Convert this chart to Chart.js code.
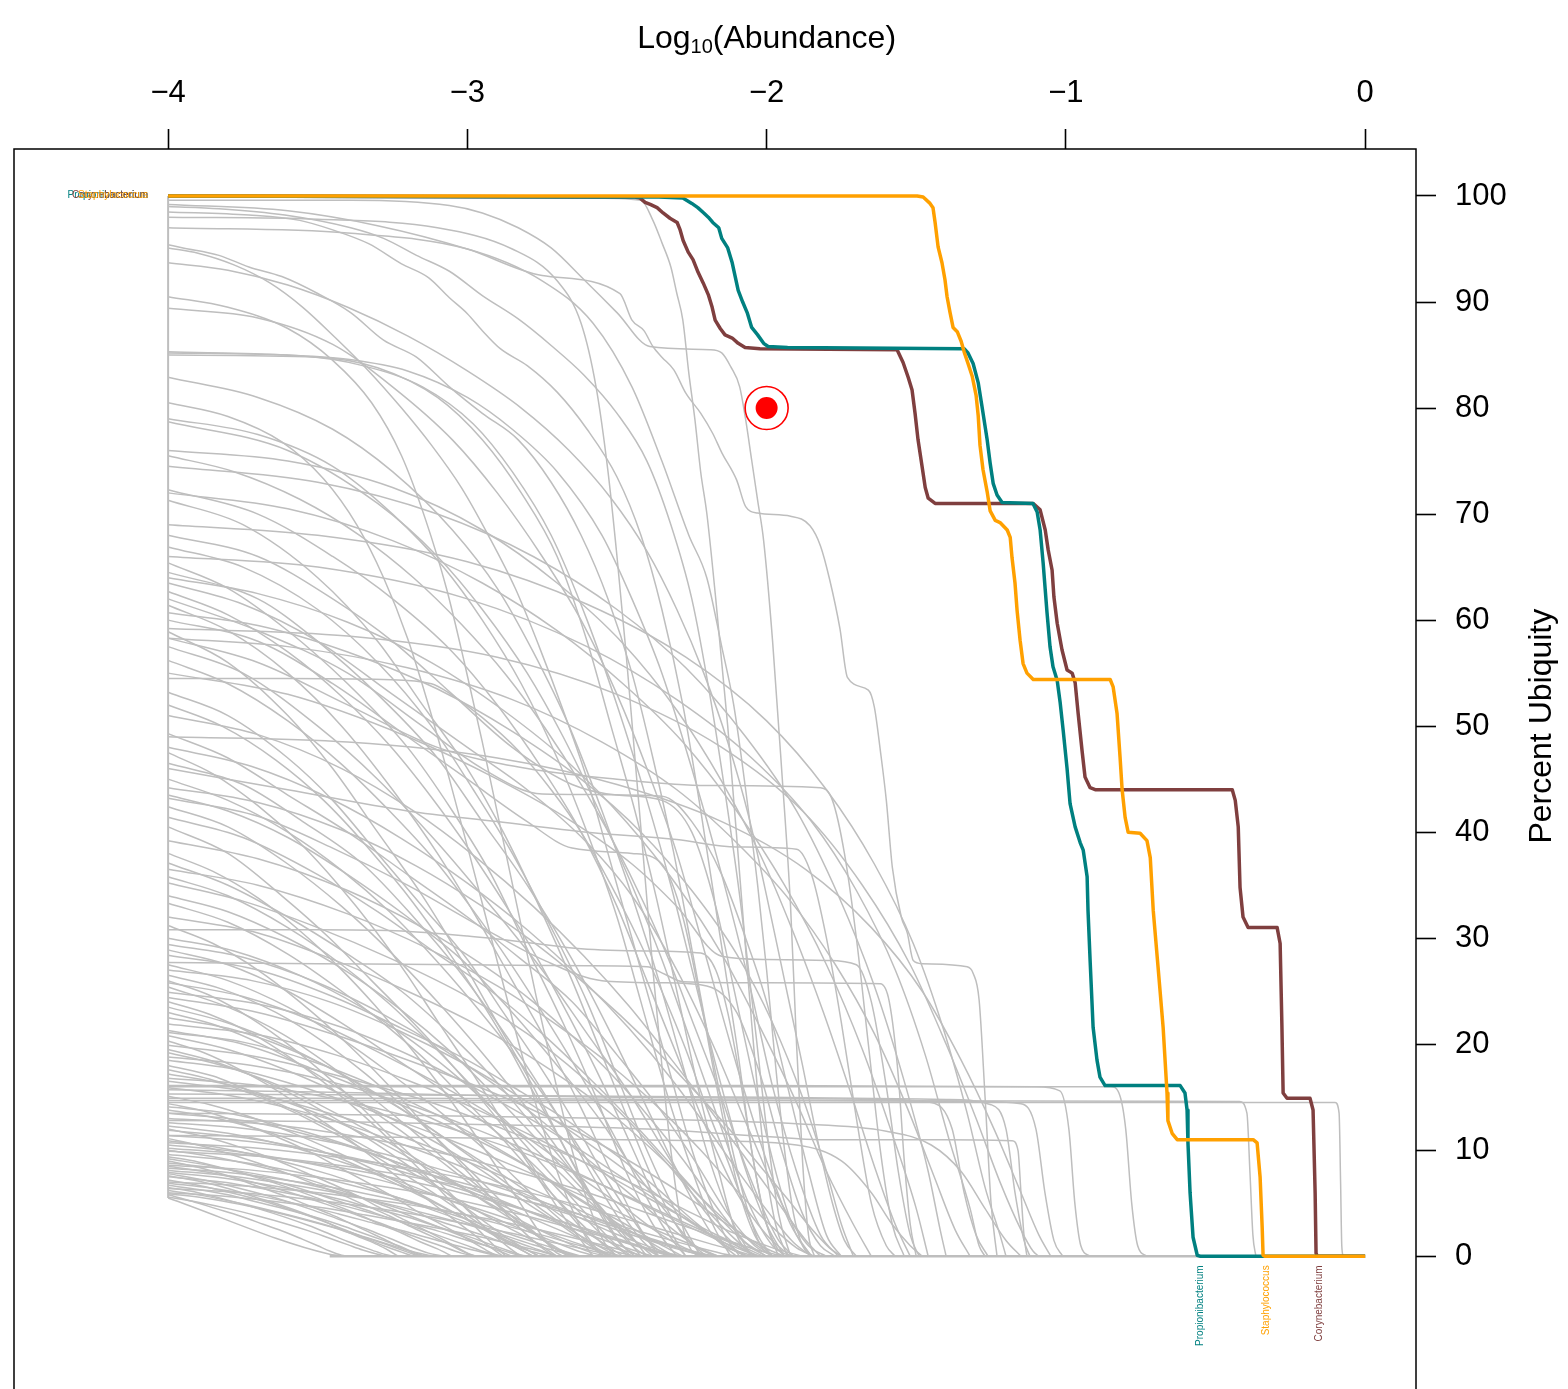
<!DOCTYPE html>
<html>
<head>
<meta charset="utf-8">
<script src="https://cdn.jsdelivr.net/npm/chart.js@4.4.1/dist/chart.umd.min.js"></script>
<style>
  html, body { margin: 0; padding: 0; background: #fff; overflow: hidden; }
  #box { position: relative; width: 1568px; height: 1478px; }
</style>
</head>
<body>
<div id="box"><canvas id="chart"></canvas></div>
<script>
// axis ticks
const xTicks = [-4, -3, -2, -1, 0];
const yTicks = [0, 10, 20, 30, 40, 50, 60, 70, 80, 90, 100];

// highlighted genera: [log10 abundance threshold, percent of samples]
const genera = ['Propionibacterium', 'Corynebacterium', 'Staphylococcus'];

const propionibacterium = [[-4,100],[-2.36,99.9],[-2.28,99.8],[-2.25,99.3],[-2.23,98.9],[-2.21,98.4],[-2.195,98],[-2.18,97.5],
  [-2.16,97],[-2.15,96],[-2.13,95.1],[-2.115,93.7],[-2.105,92.4],[-2.095,91.1],[-2.08,90],[-2.065,89],[-2.05,87.6],[-2.03,86.9],
  [-2.01,86.1],[-1.995,85.8],[-1.93,85.7],[-1.34,85.6],[-1.327,85.2],[-1.31,84.2],[-1.293,82.4],[-1.28,80.1],[-1.263,77],
  [-1.253,74.8],[-1.243,72.9],[-1.23,71.8],[-1.213,71.1],[-1.11,71],[-1.096,70.2],[-1.086,68.5],[-1.076,65.4],[-1.063,60.7],
  [-1.053,57.5],[-1.043,55.6],[-1.029,54.3],[-1.019,52.2],[-1.009,49.6],[-0.996,46],[-0.986,42.7],[-0.969,40.5],[-0.952,39],
  [-0.942,38.3],[-0.929,35.8],[-0.926,32.6],[-0.919,27.9],[-0.909,21.6],[-0.896,18.5],[-0.886,16.9],[-0.869,16.1],[-0.618,16.1],
  [-0.602,15.4],[-0.595,13.8],[-0.592,10.7],[-0.585,6],[-0.575,1.8],[-0.561,0.1],[-0.55,0],[0,0]];

const corynebacterium = [[-4,100],[-2.44,99.9],[-2.423,99.8],[-2.406,99.4],[-2.389,99.2],[-2.366,98.9],[-2.346,98.4],[-2.323,97.9],
  [-2.299,97.5],[-2.289,96.8],[-2.279,95.8],[-2.262,94.7],[-2.246,94],[-2.229,92.8],[-2.212,91.8],[-2.195,90.7],[-2.182,89.5],
  [-2.172,88.3],[-2.155,87.5],[-2.139,86.9],[-2.115,86.6],[-2.095,86.1],[-2.072,85.7],[-2.022,85.6],[-1.564,85.5],[-1.544,84.3],
  [-1.527,82.9],[-1.514,81.7],[-1.504,79.5],[-1.494,77],[-1.48,74.4],[-1.47,72.5],[-1.46,71.5],[-1.437,71],[-1.109,71],
  [-1.086,70.4],[-1.069,68.5],[-1.059,66.6],[-1.046,64.7],[-1.04,62.2],[-1.029,59.7],[-1.013,57.2],[-0.996,55.3],[-0.979,55],
  [-0.969,54.1],[-0.959,51.2],[-0.946,47.7],[-0.936,45.2],[-0.919,44.2],[-0.9,44],[-0.444,44],[-0.434,43],[-0.424,40.5],
  [-0.418,34.8],[-0.408,32],[-0.391,31],[-0.294,31],[-0.284,29.5],[-0.278,21.6],[-0.274,15.4],[-0.261,14.9],[-0.184,14.9],
  [-0.174,13.8],[-0.167,5.9],[-0.164,0.3],[-0.16,0],[0,0]];

const staphylococcus = [[-4,100],[-1.497,100],[-1.477,99.9],[-1.454,99.3],[-1.444,98.9],[-1.437,97.5],[-1.427,95.2],[-1.414,93.7],
  [-1.404,92.1],[-1.397,90.5],[-1.387,89],[-1.377,87.6],[-1.363,87.2],[-1.35,86.3],[-1.34,85.3],[-1.327,84.2],[-1.313,83],
  [-1.3,81.2],[-1.293,79.3],[-1.287,76.5],[-1.277,74.2],[-1.263,72.1],[-1.253,70.3],[-1.236,69.4],[-1.22,69.2],[-1.196,68.5],
  [-1.186,67.8],[-1.18,65.9],[-1.17,63.5],[-1.163,60.9],[-1.153,58.1],[-1.143,55.9],[-1.13,55],[-1.109,54.4],[-0.852,54.4],
  [-0.842,53.7],[-0.829,51.2],[-0.819,47.1],[-0.812,44],[-0.802,41.4],[-0.792,40],[-0.752,39.9],[-0.729,39.2],[-0.718,37.6],
  [-0.708,32.6],[-0.692,27.3],[-0.675,21.6],[-0.662,15.4],[-0.659,12.8],[-0.645,11.6],[-0.628,11],[-0.374,11],[-0.361,10.7],
  [-0.351,7.5],[-0.344,2.7],[-0.341,0.1],[-0.335,0],[0,0]];

// every other genus, drawn in grey
const otherGenera = [
  [[-4,99.9],[-2.6,99.8],[-2.42,99.6],[-2.38,97.7],[-2.35,95.6],[-2.32,93.3],[-2.3,90.8],[-2.28,88.3],[-2.26,83.3],[-2.24,79],[-2.22,73.9],[-2.2,70.1],[-2.17,62],[-2.13,50],[-2.09,36],[-2.05,22],[-2.01,10],[-1.97,3],[-1.93,0]],
  [[-4,99.6],[-3.39,99.6],[-3.06,99.1],[-2.95,98.4],[-2.83,97],[-2.72,95.1],[-2.61,92.1],[-2.5,89],[-2.39,85.8],[-2.19,85.5],[-2.15,85.2],[-2.12,83.9],[-2.09,82],[-2.07,78.9],[-2.05,75.1],[-2.03,71.3],[-2.01,67.5],[-1.98,58],[-1.95,46],[-1.92,33],[-1.9,20],[-1.88,9],[-1.86,2],[-1.84,0]],
  [[-4,99.2],[-3.6,98.6],[-3.3,97.2],[-3,95],[-2.75,92.5],[-2.49,90.8],[-2.45,88.3],[-2.41,87.3],[-2.38,85.8],[-2.35,84.8],[-2.31,83.6],[-2.27,81.4],[-2.22,79.5],[-2.18,77.6],[-2.15,75.8],[-2.1,73.2],[-2.07,70.7],[-2.03,70.1],[-1.92,69.8],[-1.855,68.9],[-1.82,67],[-1.79,63.9],[-1.755,59.2],[-1.73,54.6],[-1.66,53.4],[-1.64,51.8],[-1.62,47.7],[-1.6,43],[-1.58,36.7],[-1.55,32],[-1.53,30.5],[-1.51,27.9],[-1.48,27.6],[-1.33,27.3],[-1.31,26.7],[-1.29,24.2],[-1.27,15],[-1.25,5],[-1.23,0]],
  [[-4,99],[-3.83,98.8],[-3.61,98.2],[-3.39,97],[-3.28,96],[-3.17,94.4],[-3.06,92.9],[-2.95,90.6],[-2.83,88.4],[-2.72,85.9],[-2.61,83.1],[-2.5,79.5],[-2.4,75],[-2.32,69],[-2.25,62],[-2.19,53],[-2.14,44],[-2.09,34],[-2.04,22],[-2,12],[-1.96,4],[-1.92,0]],
  [[-4,98.5],[-3.73,98.2],[-3.56,97.7],[-3.45,96.8],[-3.33,95.5],[-3.22,93.6],[-3.13,92.3],[-3.06,90.4],[-3,88.9],[-2.95,87.3],[-2.89,85.6],[-2.8,84],[-2.7,81.5],[-2.6,78],[-2.5,73.5],[-2.42,68],[-2.35,61],[-2.28,52],[-2.22,42],[-2.16,31],[-2.1,20],[-2.05,10],[-2,3],[-1.96,0]],
  [[-4,95.4],[-3.95,95.1],[-3.83,94.4],[-3.73,93.3],[-3.62,92.4],[-3.5,90.8],[-3.39,89],[-3.28,86.4],[-3.17,84.8],[-3.06,82],[-2.95,79.5],[-2.83,77],[-2.72,73],[-2.62,68],[-2.53,62],[-2.45,55],[-2.38,47],[-2.31,38],[-2.25,29],[-2.19,20],[-2.13,12],[-2.07,5],[-2.02,1],[-1.98,0]],
  [[-4,95.1],[-3.9,94.6],[-3.78,93.5],[-3.66,91.8],[-3.55,89.5],[-3.44,86.6],[-3.33,83.5],[-3.22,80],[-3.12,76.5],[-3.02,72.5],[-2.93,68],[-2.84,63],[-2.76,57.5],[-2.68,51.5],[-2.6,45],[-2.53,38],[-2.46,31],[-2.39,24],[-2.32,17],[-2.26,11],[-2.2,6],[-2.14,2],[-2.09,0]],
  [[-4,93.7],[-3.8,93],[-3.6,91.6],[-3.4,89.5],[-3.2,86.8],[-3,83.5],[-2.82,80],[-2.66,76],[-2.52,71.5],[-2.4,66.5],[-2.3,61],[-2.21,55],[-2.13,48.5],[-2.06,41.5],[-2,34],[-1.94,26],[-1.88,18],[-1.83,11],[-1.78,5],[-1.74,1.5],[-1.7,0]],
  [[-4,98],[-3.5,97.8],[-3.1,97],[-2.85,95],[-2.7,92],[-2.62,88],[-2.57,82],[-2.53,74],[-2.5,66],[-2.47,57],[-2.44,47],[-2.41,37],[-2.38,27],[-2.35,18],[-2.32,10],[-2.29,4],[-2.26,1],[-2.23,0]],
  [[-4,90.5],[-3.8,89.5],[-3.6,87.5],[-3.45,84.5],[-3.32,80.5],[-3.22,75.5],[-3.14,69.5],[-3.07,63],[-3.01,56],[-2.95,48.5],[-2.89,40.5],[-2.83,32.5],[-2.77,24.5],[-2.71,17],[-2.65,10],[-2.59,4.5],[-2.54,1.2],[-2.5,0]],
  [[-4,80.5],[-3.8,79.2],[-3.62,76.8],[-3.48,73.3],[-3.37,69],[-3.28,64],[-3.2,58.3],[-3.13,52],[-3.06,45],[-2.99,37.6],[-2.92,30],[-2.85,22.4],[-2.78,15.2],[-2.71,8.8],[-2.64,3.8],[-2.58,0.8],[-2.54,0]],
  [[-4,97],[-3.4,96.5],[-3,95],[-2.75,92],[-2.58,88],[-2.45,82],[-2.35,75],[-2.26,68],[-2.2,64],[-2.15,57.5],[-2.11,52],[-2.07,44],[-2.03,35],[-2,27],[-1.97,18],[-1.94,10],[-1.91,4],[-1.88,1],[-1.85,0]],
  [[-4,89.4],[-3.7,88.5],[-3.45,86],[-3.25,82],[-3.05,77],[-2.9,72],[-2.75,66],[-2.62,60],[-2.5,53],[-2.4,46],[-2.3,38],[-2.2,28],[-2.1,18],[-2,9],[-1.92,3],[-1.85,0]],
  [[-4,85.3],[-3.6,85],[-3.4,84.6],[-3.2,83.5],[-3,81],[-2.85,78],[-2.7,74],[-2.55,68],[-2.45,62],[-2.35,55],[-2.25,46],[-2.15,36],[-2.06,26],[-1.98,16],[-1.9,8],[-1.82,2],[-1.76,0]],
  [[-4,85.2],[-3.55,84.9],[-3.35,84],[-3.15,82],[-2.98,78.5],[-2.85,74],[-2.72,68],[-2.6,60],[-2.5,52],[-2.4,43],[-2.32,35],[-2.24,26],[-2.16,17],[-2.08,9],[-2,3],[-1.94,0]],
  [[-4,85],[-3.5,84.8],[-3.3,83.8],[-3.1,81],[-2.95,77],[-2.82,72],[-2.7,66],[-2.6,58],[-2.52,50],[-2.44,42],[-2.37,34],[-2.3,25],[-2.23,16],[-2.16,8],[-2.1,2],[-2.05,0]],
  [[-4,82.9],[-3.7,81],[-3.45,78],[-3.25,74],[-3.05,68.5],[-2.9,63],[-2.78,57],[-2.66,50],[-2.55,42],[-2.45,34],[-2.36,26],[-2.27,17],[-2.19,9],[-2.11,3],[-2.05,0]],
  [[-4,79],[-3.7,77.5],[-3.45,74.5],[-3.25,70],[-3.08,65],[-2.95,60],[-2.82,54],[-2.7,47],[-2.6,40],[-2.5,32],[-2.42,24],[-2.34,16],[-2.26,9],[-2.18,3],[-2.12,0]],
  [[-4,78.7],[-3.6,76],[-3.3,71],[-3.1,66],[-2.95,61],[-2.8,55],[-2.68,49],[-2.56,42],[-2.45,35],[-2.35,28],[-2.25,20],[-2.15,12],[-2.06,5],[-1.98,1],[-1.92,0]],
  [[-4,72.3],[-3.7,70],[-3.45,66],[-3.25,62],[-3.05,57],[-2.9,52],[-2.75,46],[-2.62,40],[-2.5,33],[-2.4,26],[-2.3,19],[-2.2,12],[-2.1,6],[-2,2],[-1.92,0]],
  [[-4,71.3],[-3.75,69],[-3.5,64],[-3.3,58],[-3.15,52],[-3,46],[-2.88,40],[-2.76,33],[-2.65,26],[-2.55,19],[-2.45,12],[-2.36,6],[-2.28,2],[-2.2,0]],
  [[-4,68],[-3.7,66],[-3.45,62],[-3.25,58],[-3.05,53],[-2.85,48],[-2.65,44.5],[-2.5,43.5],[-2.35,43],[-2.25,40],[-2.17,33],[-2.1,24],[-2.03,15],[-1.96,7],[-1.9,2],[-1.85,0]],
  [[-4,66.9],[-3.75,65],[-3.5,61],[-3.3,56],[-3.12,50],[-2.98,44],[-2.85,38],[-2.72,31],[-2.6,24],[-2.5,17],[-2.4,10],[-2.3,4],[-2.22,0]],
  [[-4,65.4],[-3.8,63],[-3.6,59],[-3.4,54],[-3.2,48],[-3.05,42],[-2.92,36],[-2.8,29],[-2.68,22],[-2.57,15],[-2.47,8],[-2.38,3],[-2.3,0]],
  [[-4,64.5],[-3.7,62],[-3.5,58],[-3.3,53],[-3.1,47],[-2.95,41],[-2.8,35],[-2.65,28],[-2.52,21],[-2.4,14],[-2.28,7],[-2.18,2],[-2.1,0]],
  [[-4,63.5],[-3.75,61.5],[-3.5,58],[-3.25,53],[-3,48],[-2.8,44],[-2.6,39],[-2.45,34],[-2.3,27],[-2.18,20],[-2.06,12],[-1.95,5],[-1.86,1],[-1.8,0]],
  [[-4,61.4],[-3.8,59],[-3.6,55],[-3.42,50],[-3.25,44],[-3.1,38],[-2.97,32],[-2.85,26],[-2.73,20],[-2.62,14],[-2.52,8],[-2.43,3],[-2.36,0]],
  [[-4,60],[-3.7,58],[-3.45,54],[-3.2,49],[-3,45],[-2.8,41],[-2.65,38.5],[-2.45,38],[-2.35,37],[-2.28,32],[-2.22,24],[-2.16,15],[-2.1,7],[-2.04,2],[-1.98,0]],
  [[-4,58.9],[-3.8,56],[-3.6,51],[-3.45,46],[-3.3,40],[-3.15,34],[-3.02,28],[-2.9,22],[-2.78,16],[-2.67,10],[-2.57,5],[-2.48,1],[-2.42,0]],
  [[-4,57.5],[-3.75,55],[-3.5,50],[-3.3,45],[-3.1,39],[-2.92,33],[-2.75,27],[-2.6,21],[-2.45,15],[-2.32,9],[-2.2,4],[-2.1,1],[-2.02,0]],
  [[-4,54.5],[-3.6,54.5],[-3.28,54.4],[-3.12,54],[-3.06,53.1],[-2.95,50.8],[-2.83,47.7],[-2.72,44],[-2.62,40],[-2.52,35],[-2.43,30],[-2.35,25],[-2.27,19.5],[-2.2,14],[-2.13,9],[-2.07,4.5],[-2.02,1.5],[-1.98,0]],
  [[-4,53.2],[-3.8,51],[-3.6,47],[-3.45,43],[-3.3,38],[-3.15,33],[-3,28],[-2.88,23],[-2.76,18],[-2.65,13],[-2.55,8],[-2.46,4],[-2.38,1],[-2.32,0]],
  [[-4,49.3],[-3.8,47],[-3.6,43.5],[-3.4,40],[-3.2,36],[-3,32],[-2.82,28],[-2.65,24],[-2.5,19],[-2.36,14],[-2.24,9],[-2.13,4],[-2.04,1],[-1.98,0]],
  [[-4,46.5],[-3.75,44.5],[-3.55,41],[-3.35,37],[-3.18,32],[-3.03,27],[-2.9,22],[-2.78,17],[-2.67,12],[-2.57,7],[-2.48,3],[-2.4,0]],
  [[-4,43.5],[-3.8,42],[-3.6,39.5],[-3.4,36],[-3.2,32],[-3.02,28],[-2.85,23],[-2.7,18],[-2.56,13],[-2.44,8],[-2.33,4],[-2.24,1],[-2.17,0]],
  [[-4,43.2],[-3.7,41.5],[-3.45,38.5],[-3.2,35],[-2.95,31],[-2.75,28],[-2.55,26],[-2.35,25.8],[-2.2,25.5],[-2.1,23],[-2.02,17],[-1.95,10],[-1.88,4],[-1.82,1],[-1.77,0]],
  [[-4,42.4],[-3.8,40.5],[-3.6,37],[-3.42,33],[-3.25,28.5],[-3.1,24],[-2.96,19.5],[-2.83,15],[-2.72,11],[-2.62,7],[-2.53,3.5],[-2.45,1],[-2.4,0]],
  [[-4,41.4],[-3.75,39.5],[-3.5,36],[-3.3,32.5],[-3.1,28.5],[-2.92,25],[-2.75,21],[-2.6,17],[-2.46,13],[-2.33,9],[-2.2,5],[-2.08,2],[-1.98,0]],
  [[-4,40.5],[-3.8,38],[-3.62,34],[-3.46,30],[-3.32,26],[-3.18,22],[-3.05,18],[-2.93,14],[-2.82,10],[-2.72,6],[-2.63,3],[-2.55,0]],
  [[-4,39.2],[-3.7,37.5],[-3.4,34.5],[-3.15,31],[-2.95,27.5],[-2.78,24],[-2.62,20],[-2.48,16],[-2.36,12],[-2.25,8],[-2.15,4],[-2.06,1],[-2,0]],
  [[-4,37.1],[-3.8,35],[-3.6,32],[-3.4,28.5],[-3.22,25],[-3.06,21],[-2.92,17],[-2.8,13],[-2.68,9],[-2.58,5.5],[-2.49,2.5],[-2.42,0]],
  [[-4,35.2],[-3.75,33.5],[-3.5,31],[-3.25,28],[-3,24.5],[-2.8,21],[-2.62,17],[-2.47,13],[-2.34,9],[-2.22,5],[-2.12,2],[-2.04,0]],
  [[-4,33.3],[-3.8,31.5],[-3.6,28.5],[-3.42,25],[-3.26,21.5],[-3.12,18],[-3,14.5],[-2.88,11],[-2.77,7.5],[-2.67,4.5],[-2.58,2],[-2.5,0]],
  [[-4,32],[-3.7,30.5],[-3.45,28],[-3.2,25],[-2.98,22],[-2.8,19],[-2.64,16],[-2.5,13],[-2.38,10],[-2.27,7],[-2.17,4],[-2.08,1.5],[-2,0]],
  [[-4,30.8],[-3.5,30.8],[-3.24,30.7],[-3,30.2],[-2.8,29.6],[-2.62,29],[-2.4,28.8],[-2.22,28.6],[-2.17,27],[-2.13,23],[-2.09,17],[-2.05,10],[-2.01,4],[-1.97,1],[-1.94,0]],
  [[-4,28.9],[-3.8,27.5],[-3.6,25],[-3.42,22],[-3.26,19],[-3.1,16],[-2.96,13],[-2.83,10],[-2.72,7],[-2.62,4],[-2.53,1.5],[-2.46,0]],
  [[-4,28.4],[-3.7,27],[-3.45,24.5],[-3.22,21.5],[-3,18.5],[-2.82,15.5],[-2.65,12.5],[-2.5,9.5],[-2.37,6.5],[-2.25,3.5],[-2.15,1.2],[-2.07,0]],
  [[-4,27.7],[-3.5,27.6],[-3,27.5],[-2.6,27.4],[-2.4,27.3],[-2.34,26.6],[-2.28,25.9],[-2,25.8],[-1.62,25.7],[-1.59,24],[-1.56,17],[-1.54,9],[-1.52,3],[-1.5,0]],
  [[-4,27.5],[-3.8,26],[-3.6,23.5],[-3.42,20.5],[-3.27,17.5],[-3.13,14.5],[-3,11.5],[-2.88,8.5],[-2.77,5.5],[-2.67,3],[-2.58,1],[-2.52,0]],
  [[-4,25.8],[-3.75,24.5],[-3.5,22],[-3.28,19],[-3.08,16],[-2.9,13],[-2.74,10],[-2.6,7],[-2.47,4.5],[-2.35,2],[-2.25,0.5],[-2.18,0]],
  [[-4,25.4],[-3.8,23.5],[-3.62,21],[-3.46,18],[-3.32,15],[-3.19,12],[-3.07,9],[-2.96,6.5],[-2.86,4],[-2.77,2],[-2.69,0.5],[-2.63,0]],
  [[-4,24.4],[-3.7,23],[-3.4,20.5],[-3.15,18],[-2.92,15.5],[-2.72,13],[-2.55,10.5],[-2.4,8],[-2.26,5.5],[-2.13,3],[-2.02,1],[-1.94,0]],
  [[-4,23.5],[-3.8,22],[-3.58,19.5],[-3.38,16.5],[-3.2,13.5],[-3.04,10.5],[-2.9,8],[-2.77,5.5],[-2.66,3.3],[-2.56,1.5],[-2.48,0]],
  [[-4,21.3],[-3.75,20],[-3.5,17.5],[-3.28,15],[-3.08,12.5],[-2.9,10],[-2.74,7.5],[-2.6,5],[-2.47,3],[-2.36,1.2],[-2.28,0]],
  [[-4,20.8],[-3.8,19.5],[-3.6,17.5],[-3.4,15],[-3.22,12.5],[-3.06,10],[-2.92,7.5],[-2.8,5],[-2.69,3],[-2.6,1.2],[-2.53,0]],
  [[-4,19.9],[-3.7,18.8],[-3.4,16.8],[-3.12,14.5],[-2.88,12],[-2.66,9.5],[-2.46,7],[-2.28,4.5],[-2.12,2.3],[-1.98,0.8],[-1.88,0]],
  [[-4,19.2],[-3.82,18],[-3.62,16],[-3.44,13.5],[-3.28,11],[-3.13,8.5],[-3,6.2],[-2.88,4],[-2.78,2.2],[-2.7,0.8],[-2.64,0]],
  [[-4,18.5],[-3.75,17.5],[-3.5,15.5],[-3.27,13.2],[-3.06,11],[-2.86,8.7],[-2.68,6.5],[-2.52,4.5],[-2.38,2.6],[-2.26,1.2],[-2.16,0]],
  [[-4,18],[-3.85,17],[-3.68,15],[-3.52,13],[-3.37,10.8],[-3.23,8.6],[-3.1,6.5],[-2.98,4.5],[-2.87,2.8],[-2.77,1.3],[-2.7,0]],
  [[-4,58.3],[-3.7,56],[-3.4,52],[-3.1,48],[-2.8,46],[-2.5,45],[-2.2,44.4],[-1.82,44.2],[-1.78,43],[-1.74,38],[-1.7,30],[-1.66,20],[-1.62,10],[-1.58,3],[-1.54,0]],
  [[-4,62],[-3.7,59],[-3.4,55],[-3.15,50],[-2.95,46],[-2.75,43.6],[-2.35,43.4],[-2.25,41],[-2.15,36],[-2.07,30],[-2,24],[-1.93,16],[-1.86,8],[-1.8,2],[-1.75,0]],
  [[-4,46],[-3.6,44],[-3.2,42],[-2.9,41],[-2.6,40],[-2.3,39.3],[-2.1,38.6],[-1.9,38.4],[-1.85,36],[-1.8,30],[-1.75,22],[-1.7,13],[-1.65,5],[-1.6,1],[-1.57,0]],
  [[-4,55],[-3.6,53],[-3.2,49],[-2.9,45],[-2.65,41],[-2.45,37],[-2.3,33],[-2.15,28.3],[-2,28],[-1.8,27.9],[-1.7,27.5],[-1.65,24],[-1.6,16],[-1.56,8],[-1.52,2],[-1.49,0]],
  [[-4,60.7],[-3.7,59.5],[-3.4,57],[-3.1,53.5],[-2.85,49.5],[-2.62,45],[-2.42,40],[-2.25,34.5],[-2.1,28.5],[-1.98,22],[-1.88,15],[-1.8,8],[-1.75,3],[-1.71,0]],
  [[-4,64],[-3.7,62.5],[-3.4,59.8],[-3.12,56],[-2.88,51.5],[-2.66,46.5],[-2.47,41],[-2.3,35],[-2.15,28.5],[-2.02,21.5],[-1.9,14.5],[-1.8,8],[-1.71,3],[-1.65,0]],
  [[-4,72],[-3.6,70.5],[-3.25,67.5],[-2.95,63.5],[-2.7,59],[-2.48,54],[-2.28,48.5],[-2.1,42],[-1.94,35],[-1.8,27.5],[-1.68,19.5],[-1.58,11.5],[-1.5,4.5],[-1.46,0]],
  [[-4,74.5],[-3.5,73],[-3.1,70],[-2.78,66],[-2.5,61],[-2.27,55.5],[-2.07,49],[-1.9,42],[-1.76,34],[-1.64,25.5],[-1.54,16.5],[-1.46,8],[-1.42,2.5],[-1.4,0]],
  [[-4,58.3],[-3.6,57.5],[-3.2,55.5],[-2.85,52.5],[-2.55,48.5],[-2.3,44],[-2.1,39],[-1.92,33.5],[-1.77,27.5],[-1.64,21],[-1.53,14],[-1.44,7.5],[-1.37,2.5],[-1.32,0]],
  [[-4,66],[-3.5,65],[-3,62],[-2.6,57.5],[-2.3,52.5],[-2.05,47],[-1.85,41],[-1.7,34.5],[-1.57,27],[-1.47,19],[-1.39,11],[-1.32,4.5],[-1.29,1],[-1.27,0]],
  [[-4,69],[-3.5,68],[-3,65.5],[-2.6,61.5],[-2.27,56.5],[-2,50.5],[-1.8,44],[-1.64,37],[-1.51,29.5],[-1.41,21.5],[-1.33,13.5],[-1.27,6.5],[-1.22,2],[-1.2,0]],
  [[-4,59.2],[-3.4,58.5],[-2.9,56.5],[-2.5,53],[-2.15,48],[-1.88,42],[-1.68,35],[-1.52,27.5],[-1.4,20],[-1.3,13],[-1.22,7],[-1.15,2.5],[-1.11,0.5],[-1.09,0]],
  [[-4,49],[-3.4,48.5],[-2.9,47],[-2.5,44.5],[-2.15,41],[-1.87,36.5],[-1.65,31],[-1.48,25],[-1.35,18.5],[-1.24,12],[-1.15,6],[-1.09,2],[-1.05,0]],
  [[-4,47.5],[-3.85,45.5],[-3.7,42.5],[-3.56,39],[-3.43,35],[-3.31,30.8],[-3.2,26.5],[-3.1,22.2],[-3,18],[-2.91,14],[-2.83,10.2],[-2.75,6.8],[-2.68,3.8],[-2.62,1.5],[-2.58,0]],
  [[-4,51],[-3.7,49.2],[-3.42,46],[-3.18,42],[-2.97,37.6],[-2.78,33],[-2.61,28.3],[-2.46,23.6],[-2.33,19],[-2.21,14.6],[-2.1,10.4],[-2,6.6],[-1.92,3.4],[-1.86,1.2],[-1.82,0]],
  [[-4,56.2],[-3.8,54],[-3.6,50.5],[-3.42,46.4],[-3.26,42],[-3.11,37.4],[-2.98,32.6],[-2.86,27.8],[-2.75,23],[-2.65,18.4],[-2.56,14],[-2.48,9.8],[-2.41,6],[-2.35,3],[-2.3,1],[-2.27,0]],
  [[-4,62.7],[-3.8,60.5],[-3.6,57],[-3.42,52.8],[-3.26,48.2],[-3.12,43.3],[-2.99,38.2],[-2.87,33],[-2.76,27.8],[-2.66,22.6],[-2.57,17.6],[-2.49,12.8],[-2.42,8.4],[-2.36,4.6],[-2.31,1.8],[-2.27,0]],
  [[-4,44.2],[-3.7,42.8],[-3.42,40.2],[-3.17,36.8],[-2.95,33],[-2.75,29],[-2.57,24.8],[-2.41,20.6],[-2.27,16.5],[-2.14,12.5],[-2.03,8.8],[-1.93,5.4],[-1.85,2.6],[-1.79,0.8],[-1.75,0]],
  [[-4,14.1],[-3.8,13.5],[-3.6,12.2],[-3.4,10.5],[-3.2,8.5],[-3.02,6.5],[-2.86,4.5],[-2.72,2.8],[-2.6,1.4],[-2.5,0.4],[-2.44,0]],
  [[-4,13.5],[-3.75,12.8],[-3.5,11.2],[-3.28,9.3],[-3.08,7.3],[-2.9,5.4],[-2.74,3.6],[-2.6,2.1],[-2.48,0.9],[-2.38,0]],
  [[-4,12.3],[-3.8,11.6],[-3.6,10.4],[-3.42,8.9],[-3.25,7.3],[-3.1,5.7],[-2.96,4.2],[-2.84,2.8],[-2.73,1.6],[-2.64,0.6],[-2.57,0]],
  [[-4,11.9],[-3.7,11],[-3.45,9.6],[-3.22,8],[-3.02,6.3],[-2.84,4.7],[-2.68,3.2],[-2.54,1.9],[-2.42,0.9],[-2.32,0.2],[-2.26,0]],
  [[-4,10.9],[-3.82,10.2],[-3.64,9.1],[-3.47,7.8],[-3.32,6.4],[-3.18,5],[-3.05,3.7],[-2.94,2.5],[-2.84,1.4],[-2.76,0.6],[-2.7,0]],
  [[-4,10.5],[-3.75,9.8],[-3.52,8.7],[-3.32,7.4],[-3.14,6],[-2.98,4.6],[-2.84,3.3],[-2.72,2.1],[-2.62,1.1],[-2.54,0.4],[-2.48,0]],
  [[-4,10],[-3.85,9.4],[-3.7,8.5],[-3.55,7.4],[-3.42,6.2],[-3.3,5],[-3.19,3.8],[-3.09,2.7],[-3,1.7],[-2.92,0.8],[-2.85,0]],
  [[-4,9.6],[-3.78,9],[-3.58,8],[-3.4,6.8],[-3.24,5.6],[-3.1,4.4],[-2.97,3.2],[-2.86,2.1],[-2.76,1.2],[-2.68,0.5],[-2.62,0]],
  [[-4,9.2],[-3.85,8.5],[-3.7,7.5],[-3.56,6.4],[-3.43,5.2],[-3.31,4.1],[-3.2,3],[-3.1,2],[-3.01,1.1],[-2.94,0.4],[-2.88,0]],
  [[-4,8.8],[-3.8,8.2],[-3.62,7.3],[-3.46,6.3],[-3.31,5.2],[-3.18,4.1],[-3.06,3],[-2.95,2],[-2.86,1.1],[-2.78,0.4],[-2.72,0]],
  [[-4,8.5],[-3.86,7.9],[-3.72,7],[-3.59,6],[-3.47,4.9],[-3.36,3.8],[-3.26,2.8],[-3.17,1.8],[-3.09,1],[-3.02,0.3],[-2.97,0]],
  [[-4,8.1],[-3.8,7.6],[-3.6,6.8],[-3.42,5.9],[-3.26,4.9],[-3.12,3.9],[-2.99,2.9],[-2.88,2],[-2.78,1.1],[-2.69,0.4],[-2.63,0]],
  [[-4,7.8],[-3.88,7.2],[-3.76,6.4],[-3.64,5.5],[-3.53,4.5],[-3.43,3.5],[-3.34,2.6],[-3.26,1.7],[-3.19,0.9],[-3.13,0.3],[-3.08,0]],
  [[-4,7.5],[-3.82,7],[-3.65,6.2],[-3.49,5.3],[-3.35,4.3],[-3.22,3.3],[-3.1,2.4],[-3,1.5],[-2.91,0.8],[-2.84,0.2],[-2.79,0]],
  [[-4,7.2],[-3.9,6.7],[-3.79,6],[-3.68,5.2],[-3.58,4.3],[-3.49,3.4],[-3.41,2.5],[-3.34,1.7],[-3.28,1],[-3.22,0.4],[-3.18,0]],
  [[-4,6.9],[-3.85,6.4],[-3.7,5.7],[-3.56,4.9],[-3.43,4],[-3.31,3.1],[-3.2,2.3],[-3.1,1.5],[-3.01,0.8],[-2.94,0.3],[-2.89,0]],
  [[-4,6.5],[-3.9,6],[-3.8,5.3],[-3.7,4.5],[-3.61,3.7],[-3.53,2.9],[-3.46,2.1],[-3.4,1.4],[-3.34,0.8],[-3.29,0.3],[-3.25,0]],
  [[-4,6.2],[-3.88,5.7],[-3.76,5],[-3.64,4.2],[-3.53,3.4],[-3.43,2.6],[-3.34,1.8],[-3.26,1.1],[-3.19,0.5],[-3.13,0.1],[-3.1,0]],
  [[-4,5.8],[-3.92,5.2],[-3.84,4.5],[-3.76,3.8],[-3.68,3],[-3.61,2.3],[-3.55,1.6],[-3.5,1],[-3.46,0.5],[-3.42,0.1],[-3.4,0]],
  [[-4,5.5],[-3.46,0.2],[-3.4,0]],
  [[-4,17.2],[-3.8,16.2],[-3.6,14.5],[-3.42,12.5],[-3.26,10.3],[-3.12,8.1],[-2.99,6],[-2.87,4.1],[-2.76,2.5],[-2.66,1.2],[-2.58,0.3],[-2.53,0]],
  [[-4,16.5],[-3.75,15.6],[-3.5,13.8],[-3.27,11.8],[-3.06,9.6],[-2.87,7.4],[-2.7,5.3],[-2.55,3.4],[-2.42,1.9],[-2.3,0.8],[-2.21,0]],
  [[-4,13],[-3.65,12.4],[-3.35,11.2],[-3.08,9.7],[-2.84,8],[-2.62,6.2],[-2.43,4.4],[-2.27,2.8],[-2.13,1.5],[-2.02,0.5],[-1.94,0]],
  [[-4,11.4],[-3.72,10.8],[-3.46,9.7],[-3.22,8.3],[-3,6.8],[-2.8,5.2],[-2.63,3.7],[-2.48,2.3],[-2.36,1.2],[-2.26,0.4],[-2.19,0]],
  [[-4,9.9],[-3.68,9.4],[-3.38,8.4],[-3.11,7.1],[-2.87,5.7],[-2.66,4.2],[-2.48,2.8],[-2.33,1.6],[-2.21,0.7],[-2.12,0.1],[-2.07,0]],
  [[-4,22.5],[-3.8,21.5],[-3.6,19.6],[-3.42,17.2],[-3.26,14.6],[-3.12,12],[-2.99,9.4],[-2.87,6.9],[-2.76,4.6],[-2.66,2.6],[-2.57,1.1],[-2.5,0]],
  [[-4,26.5],[-3.82,25.2],[-3.64,23],[-3.48,20.2],[-3.34,17.2],[-3.21,14],[-3.09,10.8],[-2.98,7.8],[-2.88,5],[-2.79,2.6],[-2.71,0.8],[-2.65,0]],
  [[-4,30],[-3.78,28.8],[-3.56,26.5],[-3.36,23.6],[-3.18,20.2],[-3.02,16.6],[-2.88,13],[-2.75,9.5],[-2.63,6.2],[-2.52,3.3],[-2.43,1.2],[-2.36,0]],
  [[-4,34],[-3.8,32.5],[-3.6,30],[-3.4,26.8],[-3.22,23.2],[-3.06,19.4],[-2.92,15.5],[-2.79,11.7],[-2.67,8],[-2.56,4.7],[-2.46,2],[-2.38,0]],
  [[-4,36.5],[-3.7,35],[-3.4,32.3],[-3.13,29],[-2.9,25.5],[-2.7,21.8],[-2.52,18],[-2.36,14],[-2.22,10],[-2.1,6.2],[-1.99,3],[-1.9,0.8],[-1.84,0]],
  [[-4,45],[-3.8,43],[-3.6,40],[-3.42,36.4],[-3.26,32.5],[-3.12,28.4],[-2.99,24.2],[-2.87,20],[-2.76,15.8],[-2.66,11.7],[-2.57,7.8],[-2.49,4.3],[-2.42,1.6],[-2.36,0]],
  [[-4,48],[-3.72,46.2],[-3.46,43.2],[-3.22,39.4],[-3,35.2],[-2.8,30.8],[-2.62,26.2],[-2.46,21.5],[-2.32,16.8],[-2.2,12.2],[-2.09,7.8],[-1.99,4],[-1.91,1.3],[-1.85,0]],
  [[-4,52],[-3.82,50],[-3.64,46.8],[-3.48,43],[-3.34,38.8],[-3.21,34.4],[-3.09,29.8],[-2.98,25.2],[-2.88,20.6],[-2.79,16],[-2.7,11.5],[-2.62,7.3],[-2.55,3.7],[-2.49,1.2],[-2.44,0]],
  [[-4,75.5],[-3.78,74],[-3.56,71.4],[-3.36,68],[-3.18,64],[-3.02,59.6],[-2.87,54.8],[-2.74,49.8],[-2.62,44.5],[-2.51,39],[-2.41,33.3],[-2.32,27.5],[-2.24,21.6],[-2.16,15.7],[-2.09,10],[-2.02,5],[-1.96,1.5],[-1.91,0]],
  [[-4,76],[-3.6,75],[-3.25,72.5],[-2.95,68.5],[-2.7,63.5],[-2.48,57.8],[-2.3,51.5],[-2.15,44.8],[-2.02,37.8],[-1.91,30.5],[-1.81,23],[-1.72,15.5],[-1.64,8.5],[-1.57,3],[-1.52,0]],
  [[-4,35.8],[-3.8,34],[-3.6,31],[-3.42,27.5],[-3.26,23.8],[-3.12,20],[-2.99,16.2],[-2.87,12.5],[-2.76,9],[-2.66,5.8],[-2.57,3],[-2.5,1],[-2.45,0]],
  [[-4,31.2],[-3.85,29.5],[-3.7,27],[-3.56,24],[-3.43,20.8],[-3.31,17.5],[-3.2,14.2],[-3.1,11],[-3,8],[-2.91,5.2],[-2.83,2.8],[-2.76,1],[-2.71,0]],
  [[-4,29.4],[-3.75,28.2],[-3.5,25.8],[-3.28,22.8],[-3.08,19.5],[-2.9,16],[-2.74,12.5],[-2.6,9.2],[-2.47,6.2],[-2.36,3.6],[-2.27,1.6],[-2.2,0.4],[-2.16,0]],
  [[-4,26],[-3.86,24.6],[-3.72,22.4],[-3.59,19.8],[-3.47,17],[-3.36,14.2],[-3.26,11.4],[-3.16,8.8],[-3.07,6.3],[-2.99,4.1],[-2.92,2.2],[-2.86,0.8],[-2.82,0]],
  [[-4,24.9],[-3.7,23.8],[-3.42,21.6],[-3.18,18.8],[-2.97,15.8],[-2.78,12.8],[-2.61,9.8],[-2.46,7],[-2.33,4.6],[-2.22,2.6],[-2.13,1.1],[-2.07,0]],
  [[-4,23],[-3.84,21.8],[-3.68,19.9],[-3.53,17.6],[-3.39,15.1],[-3.26,12.6],[-3.14,10.1],[-3.03,7.7],[-2.93,5.5],[-2.84,3.5],[-2.76,1.8],[-2.7,0.6],[-2.66,0]],
  [[-4,21.9],[-3.7,20.9],[-3.44,19],[-3.2,16.6],[-2.98,14],[-2.78,11.3],[-2.6,8.7],[-2.44,6.2],[-2.3,4],[-2.18,2.2],[-2.08,0.9],[-2.01,0]],
  [[-4,20.3],[-3.88,19.2],[-3.76,17.6],[-3.64,15.7],[-3.53,13.6],[-3.42,11.5],[-3.32,9.4],[-3.23,7.4],[-3.14,5.5],[-3.06,3.8],[-2.99,2.3],[-2.93,1],[-2.88,0]],
  [[-4,18.8],[-3.72,18],[-3.46,16.5],[-3.22,14.5],[-3,12.3],[-2.8,10],[-2.62,7.7],[-2.46,5.5],[-2.32,3.6],[-2.2,2],[-2.1,0.8],[-2.03,0]],
  [[-4,17.6],[-3.86,16.7],[-3.72,15.3],[-3.58,13.6],[-3.45,11.7],[-3.33,9.8],[-3.22,7.9],[-3.12,6.1],[-3.03,4.4],[-2.95,2.9],[-2.88,1.6],[-2.82,0.6],[-2.78,0]],
  [[-4,15.9],[-3.8,15.2],[-3.6,14],[-3.4,12.4],[-3.22,10.6],[-3.05,8.8],[-2.9,7],[-2.76,5.3],[-2.63,3.7],[-2.52,2.3],[-2.42,1.2],[-2.34,0.4],[-2.29,0]],
  [[-4,14.4],[-3.88,13.7],[-3.76,12.6],[-3.64,11.3],[-3.53,9.9],[-3.43,8.4],[-3.33,6.9],[-3.24,5.5],[-3.16,4.1],[-3.08,2.9],[-3.01,1.8],[-2.95,0.8],[-2.9,0]],
  [[-4,12.6],[-3.76,12.1],[-3.54,11.2],[-3.33,10],[-3.14,8.6],[-2.96,7.1],[-2.8,5.6],[-2.65,4.2],[-2.52,2.9],[-2.4,1.8],[-2.3,0.9],[-2.22,0.3],[-2.17,0]],
  [[-4,11.1],[-3.9,10.5],[-3.8,9.7],[-3.7,8.8],[-3.6,7.8],[-3.51,6.8],[-3.42,5.8],[-3.34,4.8],[-3.26,3.8],[-3.19,2.8],[-3.12,1.9],[-3.06,1.1],[-3.01,0.4],[-2.97,0]],
  [[-4,10.2],[-3.78,9.7],[-3.57,9],[-3.37,8.1],[-3.18,7],[-3.01,5.9],[-2.85,4.7],[-2.71,3.5],[-2.58,2.4],[-2.47,1.4],[-2.38,0.6],[-2.31,0]],
  [[-4,9.4],[-3.9,8.9],[-3.8,8.2],[-3.7,7.4],[-3.61,6.6],[-3.52,5.7],[-3.44,4.8],[-3.36,3.9],[-3.29,3],[-3.22,2.2],[-3.16,1.4],[-3.1,0.7],[-3.05,0]],
  [[-4,8.6],[-3.75,8.2],[-3.52,7.5],[-3.31,6.7],[-3.12,5.8],[-2.95,4.8],[-2.8,3.8],[-2.67,2.8],[-2.55,1.9],[-2.45,1.1],[-2.37,0.4],[-2.32,0]],
  [[-4,7.9],[-3.85,7.5],[-3.7,6.9],[-3.56,6.2],[-3.43,5.4],[-3.31,4.5],[-3.2,3.7],[-3.1,2.8],[-3.01,2],[-2.93,1.2],[-2.86,0.5],[-2.81,0]],
  [[-4,7],[-3.78,6.7],[-3.57,6.2],[-3.38,5.6],[-3.2,4.9],[-3.04,4.1],[-2.89,3.3],[-2.76,2.5],[-2.64,1.7],[-2.54,1],[-2.46,0.4],[-2.41,0]],
  [[-4,6.7],[-3.9,6.3],[-3.8,5.8],[-3.7,5.1],[-3.6,4.4],[-3.51,3.7],[-3.43,3],[-3.36,2.3],[-3.29,1.6],[-3.23,1],[-3.18,0.4],[-3.14,0]],
  [[-4,6],[-3.82,5.7],[-3.65,5.2],[-3.49,4.6],[-3.34,3.9],[-3.2,3.2],[-3.07,2.5],[-2.95,1.8],[-2.85,1.1],[-2.76,0.5],[-2.7,0]],
  [[-4,5.6],[-3.9,5.1],[-3.8,4.5],[-3.7,3.8],[-3.61,3.1],[-3.53,2.4],[-3.46,1.7],[-3.4,1.1],[-3.35,0.6],[-3.3,0.2],[-3.27,0]],
  [[-4,13.8],[-3.85,13.1],[-3.7,12],[-3.56,10.7],[-3.43,9.3],[-3.31,7.8],[-3.2,6.3],[-3.1,4.9],[-3.01,3.6],[-2.93,2.4],[-2.86,1.4],[-2.8,0.6],[-2.76,0]],
  [[-4,12],[-3.88,11.3],[-3.76,10.3],[-3.65,9.2],[-3.55,8],[-3.45,6.8],[-3.36,5.6],[-3.28,4.4],[-3.2,3.3],[-3.13,2.3],[-3.07,1.4],[-3.02,0.6],[-2.98,0]],
  [[-4,10.7],[-3.7,10.2],[-3.42,9.3],[-3.17,8.2],[-2.95,7],[-2.75,5.7],[-2.58,4.4],[-2.43,3.2],[-2.3,2.1],[-2.19,1.2],[-2.1,0.5],[-2.04,0]],
  [[-4,9],[-3.9,8.4],[-3.8,7.6],[-3.71,6.7],[-3.62,5.8],[-3.54,4.9],[-3.46,4],[-3.39,3.1],[-3.33,2.3],[-3.27,1.5],[-3.22,0.8],[-3.18,0.3],[-3.15,0]],
  [[-4,8.3],[-3.8,7.9],[-3.61,7.2],[-3.43,6.4],[-3.27,5.5],[-3.12,4.6],[-2.98,3.7],[-2.86,2.8],[-2.75,2],[-2.65,1.2],[-2.57,0.6],[-2.51,0]],
  [[-4,7.6],[-3.9,7.1],[-3.8,6.4],[-3.71,5.6],[-3.62,4.8],[-3.54,4],[-3.47,3.2],[-3.41,2.4],[-3.35,1.7],[-3.3,1.1],[-3.26,0.5],[-3.23,0]],
  [[-4,6.4],[-3.8,6.1],[-3.6,5.6],[-3.42,5],[-3.25,4.3],[-3.1,3.6],[-2.96,2.8],[-2.84,2.1],[-2.73,1.4],[-2.63,0.8],[-2.55,0.3],[-2.5,0]],
  [[-4,5.9],[-3.88,5.5],[-3.76,4.9],[-3.65,4.2],[-3.55,3.5],[-3.46,2.8],[-3.38,2.1],[-3.31,1.5],[-3.25,0.9],[-3.2,0.4],[-3.16,0]],
  [[-4,15.1],[-3.86,14.3],[-3.72,13.1],[-3.58,11.6],[-3.45,10],[-3.33,8.4],[-3.22,6.8],[-3.12,5.3],[-3.03,3.9],[-2.95,2.6],[-2.88,1.5],[-2.82,0.6],[-2.78,0]],
  [[-4,16.8],[-3.7,16.1],[-3.42,14.7],[-3.17,13],[-2.95,11.1],[-2.75,9.1],[-2.58,7.1],[-2.43,5.2],[-2.3,3.5],[-2.19,2.1],[-2.1,1],[-2.03,0]],
  [[-4,19.5],[-3.85,18.4],[-3.7,16.8],[-3.56,14.9],[-3.43,12.8],[-3.31,10.7],[-3.2,8.6],[-3.1,6.6],[-3.01,4.7],[-2.93,3],[-2.86,1.6],[-2.8,0.6],[-2.76,0]],
  [[-4,21.1],[-3.75,20.2],[-3.52,18.4],[-3.31,16.1],[-3.12,13.6],[-2.95,11],[-2.8,8.5],[-2.67,6.1],[-2.55,4],[-2.45,2.3],[-2.37,1],[-2.31,0]],
  [[-4,24],[-3.86,22.8],[-3.72,21],[-3.59,18.7],[-3.47,16.2],[-3.36,13.6],[-3.26,11],[-3.17,8.5],[-3.09,6.2],[-3.02,4.1],[-2.96,2.4],[-2.91,1],[-2.87,0]],
  [[-4,27],[-3.72,26],[-3.46,24],[-3.23,21.3],[-3.02,18.3],[-2.83,15.1],[-2.66,11.9],[-2.51,8.9],[-2.38,6.1],[-2.27,3.7],[-2.18,1.8],[-2.11,0.6],[-2.06,0]],
  [[-4,38],[-3.85,36.3],[-3.7,33.8],[-3.56,30.7],[-3.43,27.3],[-3.31,23.7],[-3.2,20],[-3.1,16.4],[-3.01,12.9],[-2.93,9.6],[-2.86,6.6],[-2.8,4],[-2.75,1.9],[-2.71,0.5],[-2.68,0]],
  [[-4,16.1],[-3,16.1],[-2,16.1],[-1.1,16],[-1.02,15.6],[-0.99,12],[-0.97,5],[-0.95,1],[-0.92,0]],
  [[-4,16],[-3,16],[-2,16],[-0.85,16],[-0.82,15.2],[-0.8,12],[-0.78,5],[-0.76,1],[-0.73,0]],
  [[-4,14.7],[-2,14.7],[-0.42,14.6],[-0.395,13.5],[-0.385,8],[-0.375,2],[-0.365,0]],
  [[-4,14.5],[-2,14.5],[-0.1,14.5],[-0.087,13.5],[-0.082,7],[-0.078,1],[-0.073,0]],
  [[-4,15.7],[-3.5,15.5],[-3,15.2],[-2.5,15],[-2,14.9],[-1.6,14.8],[-1.45,14.5],[-1.38,12],[-1.34,6],[-1.3,2],[-1.26,0]],
  [[-4,14.9],[-3.2,14.9],[-2.4,14.8],[-1.8,14.7],[-1.3,14.6],[-1.15,14.4],[-1.1,12],[-1.07,6],[-1.04,1.5],[-1.01,0]],
  [[-4,12.8],[-3.4,12.7],[-2.9,12.4],[-2.4,12],[-2,11.3],[-1.82,11],[-1.4,11],[-1.18,10.9],[-1.16,10],[-1.15,6],[-1.14,2],[-1.13,0]],
  [[-4,11.4],[-3.5,11.3],[-2.8,11.1],[-2.2,10.9],[-1.9,10.5],[-1.75,9],[-1.65,6],[-1.58,3],[-1.52,1],[-1.48,0]],
  [[-4,15.3],[-3,15.2],[-2,15],[-1.4,14.8],[-1.25,14.3],[-1.2,12],[-1.17,6],[-1.14,1.5],[-1.12,0]],
  [[-4,13.5],[-3.2,13.3],[-2.5,13],[-1.9,12.5],[-1.6,11.8],[-1.45,10.5],[-1.35,8],[-1.27,4.5],[-1.2,1.5],[-1.15,0]]
];

// every genus is drawn from -4 at full height, and ends on the zero line
const startEdge = [[-4, 100], [-4, 5.5]];
const zeroLine = [[-3.46, 0], [0, 0]];

// the threshold being highlighted
const marker = [[-2, 80]];

const FONT = "'Liberation Sans', Arial, Helvetica, sans-serif";
const GREY = '#BEBEBE';
const colours = ['#008080', '#7F3F3F', '#FFA000'];

const pts = arr => arr.map(([x, y]) => ({x, y}));
const fmt = v => v < 0 ? '\u2212' + Math.abs(v) : String(v);

const datasets = [];
// red target marker on top
datasets.push({data: pts(marker), showLine: false, pointRadius: 21.5, pointBackgroundColor: 'rgba(0,0,0,0)',
  pointBorderColor: '#FF0000', pointBorderWidth: 1.6, order: 0});
datasets.push({data: pts(marker), showLine: false, pointRadius: 11, pointBackgroundColor: '#FF0000',
  pointBorderWidth: 0, order: 1});
// highlighted genera, orange on top, then teal, then brown
[staphylococcus, propionibacterium, corynebacterium].forEach((series, i) => {
  const col = [colours[2], colours[0], colours[1]][i];
  datasets.push({data: pts(series), borderColor: col, borderWidth: 3.5, pointRadius: 0, tension: 0,
    borderJoinStyle: 'round', order: 2 + i});
});
datasets.push({data: pts(zeroLine), borderColor: GREY, borderWidth: 2.4, pointRadius: 0, order: 9});
datasets.push({data: pts(startEdge), borderColor: GREY, borderWidth: 2, pointRadius: 0, order: 9});
otherGenera.forEach(curve => {
  datasets.push({data: pts(curve), borderColor: GREY, borderWidth: 1.5, pointRadius: 0,
    cubicInterpolationMode: 'monotone', order: 10});
});

const decorations = {
  id: 'decorations',
  afterDraw(chart) {
    const {ctx, chartArea: a, scales: {x, y}} = chart;
    ctx.save();
    // frame round the plot
    ctx.strokeStyle = '#000';
    ctx.lineWidth = 1.5;
    ctx.strokeRect(a.left, a.top, a.right - a.left, a.bottom - a.top);

    // top axis title with subscript
    ctx.fillStyle = '#000';
    ctx.textBaseline = 'alphabetic';
    ctx.textAlign = 'left';
    ctx.font = `32px ${FONT}`;
    const w1 = ctx.measureText('Log').width;
    const w3 = ctx.measureText('(Abundance)').width;
    ctx.font = `20px ${FONT}`;
    const w2 = ctx.measureText('10').width;
    let left = x.getPixelForValue(-2) - (w1 + w2 + w3) / 2;
    ctx.font = `32px ${FONT}`;
    ctx.fillText('Log', left, 48);
    left += w1;
    ctx.font = `20px ${FONT}`;
    ctx.fillText('10', left, 53);
    left += w2;
    ctx.font = `32px ${FONT}`;
    ctx.fillText('(Abundance)', left, 48);

    // right axis title
    ctx.save();
    ctx.translate(1542, y.getPixelForValue(50));
    ctx.rotate(-Math.PI / 2);
    ctx.textAlign = 'center';
    ctx.textBaseline = 'middle';
    ctx.fillText('Percent Ubiquity', 0, 0);
    ctx.restore();

    // genus names at the start and at the end of each highlighted line
    const series = [propionibacterium, corynebacterium, staphylococcus];
    ctx.font = `10px ${FONT}`;
    genera.forEach((name, i) => {
      ctx.fillStyle = colours[i];
      ctx.textAlign = 'right';
      ctx.textBaseline = 'middle';
      ctx.fillText(name, x.getPixelForValue(-4) - 20, y.getPixelForValue(100) - 1);
      const end = series[i].find(p => p[1] < 0.5);
      ctx.save();
      ctx.translate(x.getPixelForValue(end[0]) + 3, y.getPixelForValue(0) + 9);
      ctx.rotate(-Math.PI / 2);
      ctx.fillText(name, 0, 0);
      ctx.restore();
    });
    ctx.restore();
  }
};

new Chart(document.getElementById('chart').getContext('2d'), {
  type: 'line',
  data: {datasets},
  options: {
    responsive: true,
    maintainAspectRatio: false,
    animation: false,
    events: [],
    layout: {autoPadding: false, padding: {left: 14, top: 0, right: 0, bottom: 20}},
    plugins: {legend: {display: false}, tooltip: {enabled: false}},
    scales: {
      x: {
        type: 'linear', position: 'top', min: -4.515, max: 0.17,
        afterBuildTicks: axis => { axis.ticks = xTicks.map(v => ({value: v})); },
        afterFit: axis => { axis.height = 149; },
        grid: {drawOnChartArea: false, drawTicks: true, tickLength: 20, tickWidth: 1.6, tickColor: '#000'},
        border: {display: false},
        ticks: {font: {family: FONT, size: 31}, color: '#000', padding: 17, maxRotation: 0, autoSkip: false,
          callback: v => fmt(v)}
      },
      y: {
        type: 'linear', position: 'right', min: -17.36, max: 104.43,
        afterBuildTicks: axis => { axis.ticks = yTicks.map(v => ({value: v})); },
        afterFit: axis => { axis.width = 152; },
        grid: {drawOnChartArea: false, drawTicks: true, tickLength: 20, tickWidth: 1.6, tickColor: '#000'},
        border: {display: false},
        ticks: {font: {family: FONT, size: 31}, color: '#000', padding: 19, autoSkip: false,
          callback: v => String(v)}
      }
    }
  },
  plugins: [decorations]
});
</script>
</body>
</html>
